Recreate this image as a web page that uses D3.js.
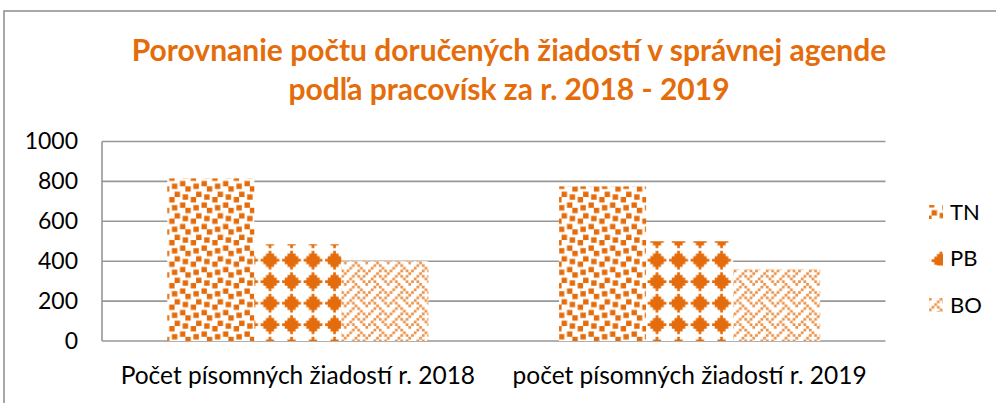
<!DOCTYPE html>
<html>
<head>
<meta charset="utf-8">
<script src="https://cdn.jsdelivr.net/npm/d3@7"></script>
<style>
  body { margin: 0; background: #fff; }
  svg { display: block; }
  text { font-family: Lato, "Open Sans", sans-serif; }
</style>
</head>
<body>
<svg id="chart"></svg>
<script>
// данные диаграммы
let categories = ["Počet písomných žiadostí r. 2018", "počet písomných žiadostí r. 2019"];
let series = ["TN", "PB", "BO"];
let valuesTN = [815, 775];
let valuesPB = [485, 500];
let valuesBO = [400, 360];
let yTicks = [0, 200, 400, 600, 800, 1000];
let titleLines = ["Porovnanie počtu doručených žiadostí v správnej agende", "podľa pracovísk za r. 2018 - 2019"];

let seriesValues = {"TN": valuesTN, "PB": valuesPB, "BO": valuesBO};

// узоры 8x8 как в Excel (строки битов)
let bitmaps = {
    "TN": [0x8d, 0x0c, 0xc0, 0xd8, 0x1b, 0x03, 0x30, 0xb1],  // large confetti
    "PB": [0x10, 0x38, 0x7c, 0xfe, 0x7c, 0x38, 0x10, 0x00],  // solid diamond
    "BO": [0x11, 0x2a, 0x44, 0xa2, 0x11, 0x28, 0x44, 0x8a]   // weave
};

let orange = "#E46C0A";
let width = 996;
let height = 403;

let svg = d3.select("#chart")
    .attr("width", width)
    .attr("height", height);

let defs = svg.append("defs");

let cell = 21.5 / 8;
for (let name of series) {
    let p = defs.append("pattern")
        .attr("id", "pat-" + name)
        .attr("patternUnits", "userSpaceOnUse")
        .attr("x", 2.6)
        .attr("y", 14.3)
        .attr("width", cell * 8)
        .attr("height", cell * 8);
    p.append("rect")
        .attr("width", cell * 8)
        .attr("height", cell * 8)
        .attr("fill", "#fff");
    let d = "";
    bitmaps[name].forEach((row, r) => {
        for (let c = 0; c < 8; c++) {
            if (row & (0x80 >> c)) {
                d += `M${c * cell},${r * cell}h${cell + 0.05}v${cell + 0.05}h${-cell - 0.05}z`;
            }
        }
    });
    p.append("path")
        .attr("d", d)
        .attr("fill", orange)
        .attr("fill-opacity", name == "BO" ? 0.75 : 1);
}

defs.append("filter")
    .attr("id", "soft")
    .append("feGaussianBlur")
    .attr("stdDeviation", 0.6);

// рамка области диаграммы
svg.append("path")
    .attr("d", `M4,${height}V11H${width}`)
    .attr("fill", "none")
    .attr("stroke", "#8c8c8c")
    .attr("stroke-width", 1.5);

// заголовок
svg.append("g")
    .selectAll("text")
    .data(titleLines)
    .enter()
    .append("text")
    .attr("x", 509)
    .attr("y", (d, i) => 61 + i * 39)
    .attr("text-anchor", "middle")
    .attr("fill", orange)
    .style("font-size", "30px")
    .style("font-weight", "bold")
    .text(d => d);

// шкалы
let plotLeft = 102, plotRight = 885.5, plotTop = 141.5, plotBottom = 341;
let scaleX = d3.scaleBand()
    .domain(categories)
    .range([plotLeft, plotRight]);
let scaleS = d3.scaleBand()
    .domain(series)
    .range([0, scaleX.bandwidth()])
    .paddingOuter(0.75);
let scaleY = d3.scaleLinear()
    .domain([0, 1000])
    .range([plotBottom, plotTop]);

// сетка
svg.append("g")
    .selectAll("line")
    .data(yTicks)
    .enter()
    .append("line")
    .attr("x1", plotLeft)
    .attr("x2", plotRight)
    .attr("y1", d => scaleY(d))
    .attr("y2", d => scaleY(d))
    .attr("stroke", "#979797")
    .attr("stroke-width", 1.6);

svg.append("line")
    .attr("x1", plotLeft)
    .attr("x2", plotLeft)
    .attr("y1", scaleY(1000))
    .attr("y2", scaleY(0))
    .attr("stroke", "#979797")
    .attr("stroke-width", 1.6);

// ось Y
let axisY = d3.axisLeft(scaleY)
    .tickValues(yTicks)
    .tickFormat(d3.format("d"))
    .tickSize(0)
    .tickPadding(24);
let gy = svg.append("g")
    .attr("transform", `translate(${plotLeft}, 0)`)
    .call(axisY);
gy.select(".domain").remove();
gy.selectAll("text")
    .attr("fill", "#000")
    .style("font-family", "Lato, sans-serif")
    .style("font-size", "23px");

// ось X
let axisX = d3.axisBottom(scaleX)
    .tickSize(0)
    .tickPadding(26);
let gx = svg.append("g")
    .attr("transform", `translate(0, ${plotBottom})`)
    .call(axisX);
gx.select(".domain").remove();
gx.selectAll("text")
    .attr("fill", "#000")
    .style("font-family", "Lato, sans-serif")
    .style("font-size", "24.5px");

// столбцы
let bars = svg.append("g").attr("filter", "url(#soft)");
for (let name of series) {
    bars.selectAll(".bar-" + name)
        .data(categories)
        .enter()
        .append("rect")
        .attr("class", "bar-" + name)
        .attr("x", d => scaleX(d) + scaleS(name))
        .attr("width", scaleS.bandwidth())
        .attr("y", (d, i) => scaleY(seriesValues[name][i]))
        .attr("height", (d, i) => plotBottom - scaleY(seriesValues[name][i]))
        .attr("fill", `url(#pat-${name})`);
}

// легенда
let legend = svg.selectAll(".legend")
    .data(series)
    .enter()
    .append("g")
    .attr("class", "legend")
    .attr("transform", (d, i) => `translate(929, ${212 + i * 46.5})`);

legend.append("rect")
    .attr("x", 0)
    .attr("y", -7)
    .attr("width", 14)
    .attr("height", 14)
    .attr("fill", d => `url(#pat-${d})`)
    .attr("filter", "url(#soft)");

legend.append("text")
    .attr("x", 21)
    .attr("y", 0)
    .attr("dy", "0.36em")
    .style("font-size", "22px")
    .text(d => d);
</script>
</body>
</html>
